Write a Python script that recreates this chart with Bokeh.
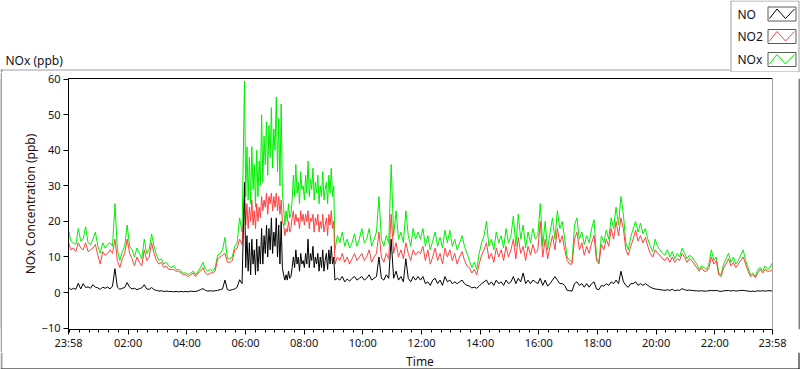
from bokeh.plotting import figure
from bokeh.models import Range1d, FixedTicker, LinearAxis
from bokeh.layouts import column, row
from bokeh.core.properties import value
from bokeh.embed import file_html
from bokeh.resources import INLINE

# sample times: minutes after 23:58 (5-minute samples, 2.5-minute in the busy 06:00-09:00 period)
minutes = list(range(0, 360, 5)) + [360 + 2.5 * k for k in range(74)] + list(range(545, 1441, 5))

nox_ppb = [
    # 23:58 - 05:53
    17.5, 14.5, 14, 13.5, 18, 14.5, 15, 18.5, 14, 13.5, 15, 17,
    13, 11, 14, 12.5, 13.5, 14, 13, 25, 12, 9, 11.5, 13,
    19, 13, 12, 10, 12.5, 11, 9.5, 15, 11, 12, 16.5, 13,
    10.5, 9, 9.5, 8, 8.5, 7.5, 7, 7.5, 6.5, 6.5, 6, 5.5,
    5.5, 5, 5.5, 6, 5, 6, 7, 8.5, 6.5, 6, 6.5, 6,
    7, 10.5, 11, 12, 15.5, 9.5, 9.5, 10, 13, 14, 21, 17,
    # 05:58 - 09:00 (2.5 min)
    59.5, 27, 41, 26, 38, 25, 41, 29, 36, 24, 40, 27, 37, 30,
    50, 31, 44, 36, 48, 33, 47, 38, 52, 35, 46, 40, 55, 34, 49, 30, 53, 28,
    24, 19, 23, 20, 25, 21, 22, 26,
    33, 27, 36, 28, 31, 25, 34, 29, 30, 26, 33, 28, 37, 27, 32, 29, 35,
    26, 31, 28, 33, 25, 30, 27, 34, 26, 29, 31, 25, 33, 28, 35, 27, 30,
    # 09:03 - 23:58
    12, 16, 14, 17, 13, 15, 12.5, 14, 16.5, 13, 15,
    18, 14, 15, 18, 13, 15, 17, 27, 15, 13, 16, 14,
    36, 16, 23, 15, 17, 14, 23, 16, 13, 18, 15, 17,
    15, 18, 13, 16, 12, 14.5, 17, 13, 15.5, 12.5, 17.5, 14,
    17.5, 13, 15, 12, 14, 16, 13, 11, 9, 7, 8.5, 6.5,
    11, 14, 16, 20, 13, 15, 12, 17, 14, 16, 12.5, 18,
    14, 16, 21.5, 13, 22, 15, 19, 12.5, 17, 14, 18, 15,
    16, 25, 13, 20, 12, 17, 21, 15, 23, 18, 20, 15,
    10, 9, 8.5, 19, 21, 15, 17, 13.5, 16, 14, 18, 20.5,
    10, 8.5, 16, 14, 17.5, 15, 21, 18, 24, 19, 27, 22,
    14, 12, 15.5, 18, 20, 17, 19.5, 16.5, 18, 15, 13, 11.5,
    15, 13, 12, 11, 10.5, 12, 10, 11.5, 9.5, 11, 10, 12.5,
    11, 9.5, 10.5, 10, 9, 8, 6.5, 7.5, 7, 6.5, 8, 12,
    9, 10, 5.5, 5, 8, 9.5, 11, 8.5, 10, 8, 9, 10.5,
    12, 9, 7, 5, 5.5, 4.5, 6.5, 7, 6, 7.5, 6.5, 7, 8.5,
]

no2_ppb = [
    14, 12, 12.5, 11.5, 14, 12.5, 12, 14, 11.5, 12, 12.5, 13.5,
    10.5, 8, 11.5, 10.5, 11, 12, 11, 15, 9, 7, 9.5, 11,
    15, 11, 9.5, 7.5, 10, 8.5, 7.5, 12, 9, 10, 14, 11,
    9, 8, 8.5, 7, 7.5, 6.5, 6.5, 6.5, 6, 6, 5.5, 5,
    5, 4.5, 5, 5.5, 4.5, 5.5, 6, 7, 5.5, 5, 5.5, 5.5,
    6, 9.5, 10, 10.5, 11, 8.5, 8.5, 9, 12, 12.5, 15, 13.5,
    26, 19, 25, 18, 24, 20, 26, 19, 23, 18, 25, 20, 24, 21,
    27, 23, 26, 24, 28, 22, 27, 25, 28, 23, 27, 24, 28, 23, 27, 22, 26, 20,
    19, 16, 18, 17, 20, 17, 18, 21,
    23, 19, 22, 20, 21, 18, 23, 20, 22, 19, 22, 20, 23, 18, 21, 20, 22,
    17, 21, 19, 22, 17, 20, 18, 22, 17, 19, 21, 16, 22, 19, 23, 18, 20,
    8, 10, 9, 11, 8.5, 10, 8, 9.5, 11, 9, 10,
    11, 9, 10, 12, 8.5, 10, 11, 17, 10, 8.5, 11, 9.5,
    22, 11, 14, 10, 12, 9.5, 14, 11, 9, 12, 10.5, 11.5,
    11, 13, 9, 12, 8, 10, 12.5, 9, 11, 8, 12.5, 10,
    12, 9, 11, 8, 10, 11.5, 9, 7.5, 7, 5.5, 6.5, 5,
    8, 10.5, 12, 14, 9.5, 11, 8.5, 12.5, 10, 12, 9, 13,
    10, 12, 15, 9.5, 15.5, 11, 13, 9, 13, 10.5, 13.5, 11,
    12, 20, 10, 15, 9.5, 13, 16, 12, 18, 14, 16, 12,
    9, 8, 8, 15, 17, 12, 14, 10.5, 13, 11, 14, 16,
    9, 8, 13.5, 12, 15, 13, 18, 15, 20, 16, 21, 18,
    12, 10.5, 13, 15, 17.5, 14.5, 16, 14, 15.5, 13, 11, 10,
    12, 11, 10.5, 9.5, 9, 10, 8.5, 10, 8.5, 9.5, 9, 11,
    10, 8.5, 9.5, 9, 8, 7, 6, 7, 6, 6, 7, 10,
    8, 9, 5, 4.5, 7, 8, 9.5, 7.5, 8.5, 7, 8, 9,
    10, 8, 6, 4.5, 5, 4.2, 5.5, 6.5, 5.5, 6.5, 6, 6, 6.5,
]

no_ppb = [
    1.5, 0.8, 1.2, 0.9, 2.6, 1.0, 2.5, 1.4, 1.6, 1.2, 2.2, 1.5,
    1.3, 0.9, 1.5, 1.2, 1.6, 1.0, 1.8, 6.7, 1.5, 0.9, 1.2, 1.4,
    2.8, 1.5, 1.0, 1.2, 0.8, 1.1, 1.3, 2.2, 1.0, 0.9, 1.4, 0.8,
    0.6, 0.4, 0.5, 0.3, 0.4, 0.3, 0.3, 0.2, 0.3, 0.2, 0.3, 0.2,
    0.3, 0.2, 0.4, 0.3, 0.3, 0.5, 0.8, 1.1, 0.6, 0.4, 0.5, 0.4,
    0.5, 0.6, 0.8, 1.0, 3.5, 0.8, 0.6, 0.8, 1.0, 1.5, 3.6, 2.5,
    31, 7, 16, 6, 14, 5, 15, 8, 12, 5, 15, 6, 13, 8,
    18, 8, 16, 11, 19, 10, 18, 12, 21, 11, 17, 13, 21, 10, 19, 8, 20, 7,
    5, 3.5, 5, 3.5, 6, 4, 4.5, 7,
    10, 7, 12, 8, 10, 6, 11, 8, 9, 7, 11, 8, 15, 7, 11, 9, 13,
    7, 10, 8, 11, 6, 10, 7, 12, 6, 9, 11, 6.5, 12, 8, 13, 8, 10,
    3.5, 4, 3.5, 4.5, 3, 3.8, 3.2, 4, 4.5, 3.5, 4,
    4.5, 3.5, 4, 5, 3.5, 4, 4.5, 10, 4, 3.5, 5, 4,
    15, 4, 6, 3.5, 4.5, 3, 9.5, 4, 3, 4.5, 3.5, 4.5,
    3.5, 4.5, 2.5, 3, 2, 3.5, 4, 2.5, 3.5, 2, 4.5, 3,
    3.5, 2.5, 3, 2.5, 3, 3.5, 2.5, 2, 1.8, 1.3, 1.5, 1.2,
    1.8, 2.5, 3, 3.5, 2.2, 3, 2, 3.5, 2.5, 3, 2, 3.5,
    2.5, 3, 4.5, 2.5, 4, 3, 5.5, 2.5, 3.5, 2.5, 3.5, 3,
    2.5, 4, 2, 3.5, 1.8, 2.5, 3.5, 4.5, 3.5, 2.5, 2.5, 2,
    0.6, 0.5, 0.4, 2.5, 3, 2, 2.5, 1.5, 2.5, 1.5, 2.5, 3,
    1, 0.8, 2, 1.8, 2.5, 2, 3, 2.5, 3.5, 2.5, 6, 3,
    2, 1.5, 2.5, 2.5, 3, 2, 2.5, 2, 2.5, 2, 1.5, 1.2,
    1, 0.9, 0.8, 0.7, 0.6, 0.8, 0.6, 0.9, 0.5, 0.7, 0.6, 1.1,
    0.8, 0.6, 0.7, 0.6, 0.5, 0.5, 0.4, 0.5, 0.4, 0.4, 0.5, 0.6,
    0.5, 0.6, 0.4, 0.3, 0.5, 0.5, 0.6, 0.4, 0.6, 0.4, 0.5, 0.6,
    0.6, 0.5, 0.4, 0.3, 0.4, 0.3, 0.5, 0.4, 0.5, 0.4, 0.5, 0.5, 0.4,
]

assert len(minutes) == len(nox_ppb) == len(no2_ppb) == len(no_ppb), (
    len(minutes), len(nox_ppb), len(no2_ppb), len(no_ppb))

x_tick_pos = [0, 122, 242, 362, 482, 602, 722, 842, 962, 1082, 1202, 1322, 1440]
x_tick_labels = ["23:58", "02:00", "04:00", "06:00", "08:00", "10:00", "12:00",
                 "14:00", "16:00", "18:00", "20:00", "22:00", "23:58"]
x_minor_ticks = [m for m in range(2, 1441, 20)]
y_ticks = [-10, 0, 10, 20, 30, 40, 50, 60]

series_names = ["NO", "NO2", "NOx"]
series_colors = ["#000000", "#ff4040", "#00ee00"]
chart_caption = "NOx (ppb)"
x_title = "Time"
y_title = "NOx Concentration (ppb)"

FONT = "Noto Sans"
PANEL_GRAY = "#a0a0a0"
TEXT_DARK = "#111122"
LABEL_DARK = "#2a0f0f"


def blank(w, h, xr, yr, bg="white"):
    f = figure(width=w, height=h, output_backend="svg", toolbar_location=None,
               x_range=Range1d(*xr), y_range=Range1d(*yr), title=None,
               x_axis_type=None, y_axis_type=None, min_border=0,
               outline_line_color=None, background_fill_color=bg, border_fill_color=bg)
    f.grid.visible = False
    return f


# ---------- top band: caption + legend (pixel-like coordinates, y downwards) ----------
TOP_H = 72
top = blank(800, TOP_H, (0, 800), (TOP_H, 0))
top.text(x=[5], y=[60], text=[chart_caption], text_font=value(FONT),
         text_font_size="12px", text_color=TEXT_DARK, text_baseline="middle")
top.segment(x0=[0], y0=[69.5], x1=[730], y1=[69.5], line_color=PANEL_GRAY, line_width=1)
top.quad(left=[0], right=[2], top=[69], bottom=[TOP_H], fill_color=PANEL_GRAY, line_color=None)
# legend box
top.quad(left=[730.5], right=[798.5], top=[0.5], bottom=[71.5], fill_color="white",
         line_color=PANEL_GRAY, line_width=1)
row_centers = [13.5, 36, 59]
for name, col, cy in zip(series_names, series_colors, row_centers):
    top.text(x=[737], y=[cy], text=[name], text_font=value(FONT), text_font_size="12px",
             text_color=TEXT_DARK, text_baseline="middle")
    L, R, T, B = 767.5, 795.5, cy - 7, cy + 7
    top.quad(left=[L], right=[R], top=[T], bottom=[B], fill_color="white",
             line_color="#5a5a5a", line_width=1)
    top.line(x=[L + 1.5, L + 9, L + 17.5, R - 1.5], y=[B - 2.5, T + 2, B - 2.5, T + 2],
             line_color=col, line_width=1)

# ---------- main chart ----------
MAIN_H = 280
p = figure(width=796, height=MAIN_H, output_backend="svg", toolbar_location=None, title=None,
           x_range=Range1d(0, 1440), y_range=Range1d(-10.4, 60.2),
           min_border_left=66, min_border_right=26, min_border_top=6, min_border_bottom=22,
           background_fill_color="white", border_fill_color="white",
           outline_line_color=None)
p.grid.visible = False

# data lines (NOx behind, then NO2, NO on top)
p.line(minutes, nox_ppb, line_color=series_colors[2], line_width=1)
p.line(minutes, no2_ppb, line_color=series_colors[1], line_width=1)
p.line(minutes, no_ppb, line_color=series_colors[0], line_width=1)

xa = p.xaxis[0]
xa.ticker = FixedTicker(ticks=x_tick_pos, minor_ticks=x_minor_ticks)
xa.major_label_overrides = dict(zip(x_tick_pos, x_tick_labels))
xa.major_tick_out = 5
xa.major_tick_in = 0
xa.minor_tick_out = 3
xa.minor_tick_in = 0
xa.major_label_standoff = 0

ya = p.yaxis[0]
ya.ticker = FixedTicker(ticks=y_ticks)
ya.axis_label = y_title
ya.major_tick_out = 5
ya.major_tick_in = 0
ya.minor_tick_out = 0
ya.minor_tick_in = 0
ya.major_label_standoff = 3
ya.axis_label_standoff = 0

for ax in (xa, ya):
    ax.axis_line_color = "black"
    ax.major_tick_line_color = "black"
    ax.minor_tick_line_color = "black"
    ax.major_label_text_font = FONT
    ax.major_label_text_font_size = "11px"
    ax.major_label_text_color = TEXT_DARK
    ax.axis_label_text_font = FONT
    ax.axis_label_text_font_size = "12px"
    ax.axis_label_text_font_style = "normal"
    ax.axis_label_text_color = LABEL_DARK

# frame edges: top black, right gray
for loc, col in (("above", "black"), ("right", PANEL_GRAY)):
    edge = LinearAxis(ticker=FixedTicker(ticks=[]), major_tick_out=0, major_tick_in=0,
                      minor_tick_out=0, minor_tick_in=0, major_label_text_font_size="0px",
                      axis_line_color=col)
    p.add_layout(edge, loc)

left_strip = blank(2, MAIN_H, (0, 2), (0, 1), bg=PANEL_GRAY)
right_strip = blank(2, MAIN_H, (0, 2), (0, 1))
right_strip.quad(left=[0], right=[1], top=[1], bottom=[0], fill_color="black", line_color=None)

# ---------- bottom band: x title + panel edge ----------
BOT_H = 369 - TOP_H - MAIN_H
y0 = TOP_H + MAIN_H
bottom = blank(800, BOT_H, (0, 800), (369, y0))
bottom.text(x=[419.5], y=[360.5], text=[x_title], text_font=value(FONT), text_font_size="12px",
            text_color=LABEL_DARK, text_baseline="middle", text_align="center")
bottom.quad(left=[0], right=[2], top=[y0], bottom=[368], fill_color=PANEL_GRAY, line_color=None)
bottom.quad(left=[798], right=[799], top=[y0], bottom=[369], fill_color="black", line_color=None)
bottom.quad(left=[0], right=[799], top=[368], bottom=[369], fill_color="black", line_color=None)

layout = column(top, row(left_strip, p, right_strip, spacing=0), bottom, spacing=0)

open("out.html", "w").write(file_html(layout, INLINE))
